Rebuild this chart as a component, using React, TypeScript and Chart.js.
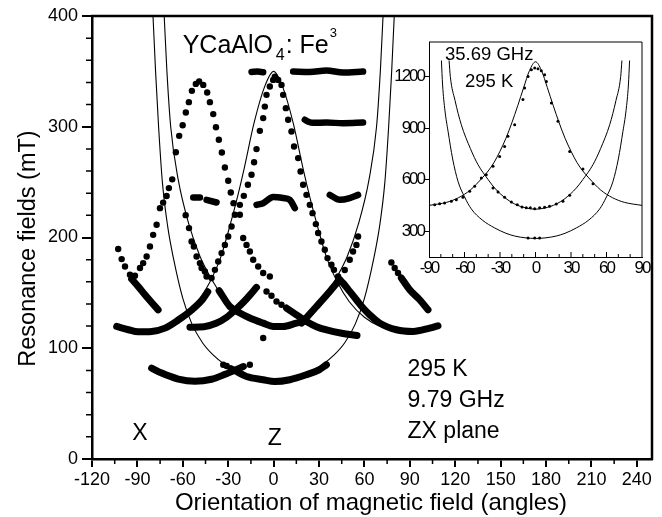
import React, { useEffect, useRef } from 'react';
import { Chart, registerables } from 'chart.js';

Chart.register(...registerables);

type P = [number, number];

const FONT = "'Liberation Sans', Arial, Helvetica, sans-serif";

// ---------- axis ticks ----------
const mainXTicks = [-120, -90, -60, -30, 0, 30, 60, 90, 120, 150, 180, 210, 240];
const mainYTicks = [0, 100, 200, 300, 400];
const insetXTicks = [-90, -60, -30, 0, 30, 60, 90];
const insetYTicks = [300, 600, 900, 1200];

// ---------- texts ----------
const yTitle = 'Resonance fields (mT)';
const xTitle = 'Orientation of magnetic field (angles)';
const compound = ['YCaAlO', '4', ': Fe', '3'];
const conditions = ['295 K', '9.79 GHz', 'ZX plane'];
const axisNames = ['X', 'Z'];
const insetConditions = ['35.69 GHz', '295 K'];

// ---------- main chart: fitted (thin) curves ----------
const fitOuterU: P[] = [[-81, 430], [-79.7, 400], [-78, 350], [-76, 300], [-73.5, 250], [-70, 210], [-66, 180], [-60, 145], [-54, 122], [-47, 105], [-40, 94], [-32, 85], [-22, 77], [-11, 72], [0, 70.5], [11, 72], [22, 77], [32, 85], [40, 94], [47, 105], [54, 122], [60, 145], [66, 180], [70, 210], [73.5, 250], [76, 300], [78, 350], [79.7, 400], [81, 430]];
const fitInnerU: P[] = [[-73.5, 430], [-72.3, 400], [-70.5, 350], [-68, 300], [-63, 252], [-56, 212], [-48.7, 183], [-40, 160], [-30, 140], [-20, 128], [-10, 122], [0, 120], [10, 122], [20, 128], [30, 140], [40, 160], [48.7, 183], [56, 212], [63, 252], [68, 300], [70.5, 350], [72.3, 400], [73.5, 430]];
const fitBell: P[] = [[-104, 119], [-90, 115.5], [-80, 116.5], [-70, 120], [-60, 128], [-50, 142], [-42, 160], [-35, 182], [-29, 210], [-24, 236], [-19.5, 262], [-13, 303], [-6, 336], [0, 350], [6, 336], [13, 303], [19.5, 262], [24, 236], [29, 210], [35, 182], [42, 160], [50, 142], [60, 128], [70, 120], [80, 116.5], [90, 115.5], [108, 121]];

// ---------- main chart: measured points ----------
const centerBellDots: P[] = [[-41, 163.4], [-38.8, 170.8], [-36.6, 178.3], [-34.4, 185.9], [-32.2, 193.3], [-30, 200.9], [-27.8, 209.9], [-25.6, 220.5], [-22.3, 229.5], [-19.7, 237.6], [-17, 247.6], [-14.6, 256.6], [-12.9, 268], [-11.3, 279.8], [-9.1, 296.3], [-6.9, 307.8], [-5.8, 318.2], [-4.7, 328.8], [-2.5, 336.3], [-0.3, 342.3], [0.8, 345.3], [3, 342.3], [5.2, 337.8], [6.3, 328.8], [8.1, 316.8], [9.6, 306.3], [11.8, 295.7], [13.5, 282.1], [16.2, 271.7], [17.8, 259.6], [19.5, 247.6], [21.7, 238.5], [23.9, 229.5], [25.7, 222], [27.9, 212.1], [29.4, 204], [31.6, 196.4], [33.8, 188.9], [35.6, 181.4], [38.2, 175.4], [39.9, 170.8], [42.6, 164.8]];
const leftBellDots: P[] = [[-91.6, 165.4], [-88.3, 172.4], [-86.2, 176.9], [-83.9, 182.9], [-81.7, 191.9], [-79.6, 202.4], [-77.3, 211.5], [-75.1, 226.5], [-73, 231.5], [-70.7, 237.5], [-69.2, 244.6], [-67, 252.5], [-64.6, 277], [-62.4, 291.8], [-60.1, 301.4], [-58, 312.8], [-56, 322.2], [-54, 332.4], [-51.4, 338.7], [-49.2, 340.8], [-46.5, 337.8], [-43.9, 330.9], [-42.1, 322.2], [-39.9, 311.4], [-38.1, 299.6], [-36.2, 288.2], [-34.2, 276.7], [-32.2, 263.2], [-30, 251.2], [-28.3, 240.6], [-26.5, 231], [-22.3, 220.5], [-20.1, 199.5], [-17.9, 193.3], [-15.7, 187.4], [-13.5, 179.9], [-10.2, 173.8], [-6.9, 167.9], [-2.5, 164.8]];
const vLeftDots: P[] = [[-102.7, 189.6], [-100.4, 180.5], [-98.2, 173.8], [-94.9, 166.3]];
const vRightDots: P[] = [[77.8, 177.4], [80, 172.4], [82.2, 167.9]];
const innerULeftDots: P[] = [[-58.1, 220.2], [-55.9, 208.5], [-54.2, 196.4], [-52.7, 191.9], [-50.9, 182.9], [-48.7, 176.9], [-47.6, 172.4], [-45.4, 169.3], [-44.3, 164.8]];
const innerURightDots: P[] = [[47, 170.6], [50.3, 179.9], [52.5, 187.4], [54.7, 193.3], [55.8, 200.9]];
const crossDots: P[] = [[-4.7, 151.2], [-1.4, 147.4], [1.9, 142.2], [5.2, 139.3]];
const lowDots: P[] = [[-33.3, 85.1], [-31, 84], [-15.7, 85.1], [-6.9, 109.2]];

// dense runs of points (appear as solid thick bands)
const arcLeft120: P[] = [[-103.7, 119.7], [-96, 116.7], [-89.5, 114.8], [-80.6, 115.2], [-71.8, 118.2], [-63, 125.5], [-54.2, 134.5], [-47, 144], [-43.5, 151]];
const arcRight120: P[] = [[44, 161.5], [45.9, 158.8], [50.3, 151.3], [54.7, 143.8], [59.1, 136.3], [63.5, 130.2], [70.1, 122.7], [81.1, 116.7], [92.1, 115.2], [103.1, 118.2], [108.6, 120.3]];
const vLeftBand: P[] = [[-93.8, 162.5], [-89.5, 155.8], [-85, 148.3], [-80.6, 141.3], [-76.3, 134.7]];
const vRightBand: P[] = [[84.4, 163.4], [89.9, 152.8], [96.5, 143.8], [102, 134.7]];
const innerUBand: P[] = [[-36, 152], [-28.9, 137.7], [-22.3, 131.8], [-15.7, 127.3], [-6.9, 122.7], [-0.3, 119.7], [6.3, 119.7], [15.1, 122.7], [20, 124]];
const risingBandRight: P[] = [[18.4, 122.7], [28.3, 137.7], [37.1, 151.3], [43.7, 162]];
const risingBandLeft: P[] = [[-55.3, 119], [-46, 119.5], [-38, 122.5], [-31, 128], [-25, 135], [-20, 141.5], [-15.7, 148], [-11.3, 155]];
const fallingBand: P[] = [[8.5, 136.3], [15.1, 130.2], [21.7, 124.2], [28.3, 119.5], [35, 116.5], [45, 113.5], [55.1, 111.5]];
const bottomLeftBand: P[] = [[-80.6, 82.1], [-74, 77.6], [-63, 72.2], [-52, 70.2], [-41, 72], [-32, 76.5], [-25, 80.5], [-20, 83.5]];
const bottomRightBand: P[] = [[-28, 81.5], [-24.5, 79], [-17.9, 74.5], [-6.9, 71.6], [0.8, 70], [10.7, 71.6], [21.7, 76.1], [30, 80.5], [34.9, 85.1]];
const h350Left: P[] = [[-14.6, 349.5], [-10.5, 349.8], [-6.9, 349.3]];
const h350Right: P[] = [[12.9, 349.8], [23.9, 349.5], [34.9, 350.8], [45.9, 349], [59.1, 349.8]];
const h305: P[] = [[20.6, 306.3], [23, 304.5], [26.1, 303.5], [34.9, 303.8], [45.9, 303.2], [59.1, 303.8]];
const h235Center: P[] = [[-11.3, 229.5], [-6.9, 231], [-0.3, 236.5], [6.3, 235.6], [10.7, 234], [14, 226.5]];
const h235Left1: P[] = [[-53.1, 236.1], [-48.7, 236.1]];
const h235Left2: P[] = [[-44.3, 234], [-37.7, 231.6]];
const h235Right: P[] = [[37.1, 238.5], [43.7, 234], [50.3, 235.6], [55.8, 238.5]];

// ---------- inset (35.69 GHz) ----------
const insetBellFit: P[] = [[-90, 450], [-75, 468], [-65, 495], [-55, 540], [-45, 610], [-40, 650], [-35, 700], [-30, 765], [-25, 840], [-20, 930], [-15, 1030], [-10, 1135], [-5, 1235], [0, 1285], [5, 1235], [10, 1135], [15, 1030], [20, 930], [25, 840], [30, 765], [35, 700], [40, 650], [45, 610], [55, 540], [65, 495], [75, 468], [90, 450]];
const insetMidFit: P[] = [[-73, 1290], [-72, 1200], [-68, 1060], [-62.7, 919], [-55, 780], [-48.6, 687], [-40, 600], [-34.5, 551], [-25, 490], [-17.6, 458], [-8, 435], [0, 428], [8, 435], [17.6, 458], [25, 490], [34.5, 551], [40, 600], [48.6, 687], [55, 780], [62.7, 919], [68, 1060], [72, 1200], [73, 1290]];
const insetLowFit: P[] = [[-79.5, 1290], [-78.5, 1150], [-76.5, 1000], [-73.9, 881], [-70, 720], [-65.5, 590], [-60, 500], [-54.3, 430], [-45, 365], [-34.5, 319], [-25, 288], [-17.6, 272], [-8, 261], [0, 258], [8, 261], [17.6, 272], [25, 288], [34.5, 319], [45, 365], [54.3, 430], [60, 500], [65.5, 590], [70, 720], [73.9, 881], [76.5, 1000], [78.5, 1150], [79.5, 1290]];
const insetBellDots: P[] = [[-85.2, 454], [-81, 460], [-76.8, 464], [-71.1, 474], [-66.9, 483], [-61.3, 497], [-55.6, 532], [-51.4, 561], [-45.8, 609], [-41.6, 628], [-35.9, 677], [-30.3, 735], [-26.1, 793], [-23.3, 852], [-17.6, 919], [-10.6, 1065], [-9.2, 1133], [-6.3, 1200], [-3.5, 1239], [-0.7, 1249], [2.1, 1245], [4.9, 1233], [7.7, 1210], [9.2, 1171], [13.4, 1045], [19, 939], [28.9, 764], [40.1, 662], [48.6, 576]];
const insetMidDots: P[] = [[-35.9, 551], [-31.7, 528], [-26.1, 497], [-20.4, 470], [-15.4, 454], [-11.4, 441], [-7.8, 436], [-4.4, 436], [-0.7, 431], [3.5, 436], [7.7, 439], [11.9, 445], [17.6, 458], [23.2, 474], [28.9, 509]];
const insetLowDots: P[] = [[-6.3, 260], [-0.7, 260], [3.5, 260]];

// ---------- helpers ----------
const toXY = (pts: P[]) => pts.map(([x, y]) => ({ x, y }));
const dotSet = (pts: P[], r: number) => ({
  data: toXY(pts), showLine: false, pointRadius: r, pointHoverRadius: r,
  pointBackgroundColor: '#000', pointBorderColor: '#000', pointBorderWidth: 0,
});
const lineSet = (pts: P[], w: number) => ({
  data: toXY(pts), showLine: true, borderColor: '#000', borderWidth: w,
  pointRadius: 0, pointHoverRadius: 0, cubicInterpolationMode: 'monotone',
  borderCapStyle: 'round', borderJoinStyle: 'round', fill: false,
});

const mainDecor = {
  id: 'mainDecor',
  afterDraw(chart: any) {
    const { ctx, chartArea: a } = chart;
    const xs = chart.scales.x;
    const ys = chart.scales.y;
    ctx.save();
    ctx.strokeStyle = '#000';
    ctx.lineWidth = 2.5;
    ctx.beginPath();
    ctx.moveTo(a.left - 1, a.top);
    ctx.lineTo(a.right, a.top);
    ctx.lineTo(a.right, a.bottom + 1);
    ctx.stroke();
    // minor ticks
    ctx.lineWidth = 1.5;
    ctx.beginPath();
    for (let v = -105; v < 250; v += 30) {
      const px = xs.getPixelForValue(v);
      ctx.moveTo(px, a.bottom);
      ctx.lineTo(px, a.bottom + 5);
    }
    for (let v = 20; v < 400; v += 20) {
      if (v % 100 === 0) continue;
      const py = ys.getPixelForValue(v);
      ctx.moveTo(a.left, py);
      ctx.lineTo(a.left - 6, py);
    }
    ctx.stroke();

    ctx.fillStyle = '#000';
    ctx.textAlign = 'left';
    ctx.textBaseline = 'alphabetic';
    // compound title
    const tx = xs.getPixelForValue(-60.1);
    const ty = ys.getPixelForValue(366.4);
    ctx.font = `25px ${FONT}`;
    ctx.fillText(compound[0], tx, ty);
    ctx.font = `16px ${FONT}`;
    ctx.fillText(compound[1], tx + 93, ty + 7);
    ctx.font = `25px ${FONT}`;
    ctx.fillText(compound[2], tx + 103, ty);
    ctx.font = `13px ${FONT}`;
    ctx.fillText(compound[3], tx + 147, ty - 16);

    // conditions
    ctx.font = `23px ${FONT}`;
    const cx = xs.getPixelForValue(88.5);
    const cy = [75.2, 47.2, 19.2];
    conditions.forEach((t, i) => ctx.fillText(t, cx, ys.getPixelForValue(cy[i])));

    // axis direction names
    ctx.textAlign = 'center';
    ctx.textBaseline = 'middle';
    ctx.fillText(axisNames[0], xs.getPixelForValue(-88.3), ys.getPixelForValue(22.8));
    ctx.fillText(axisNames[1], xs.getPixelForValue(0.8), ys.getPixelForValue(18.3));

    // axis titles
    ctx.textBaseline = 'alphabetic';
    ctx.font = `24px ${FONT}`;
    ctx.fillText(xTitle, (a.left + a.right) / 2 - 1, 510);
    ctx.translate(35, (a.top + a.bottom) / 2 + 11);
    ctx.rotate(-Math.PI / 2);
    ctx.font = `23.5px ${FONT}`;
    ctx.fillText(yTitle, 0, 0);
    ctx.restore();
  },
};

const insetDecor = {
  id: 'insetDecor',
  beforeDraw(chart: any) {
    chart.ctx.letterSpacing = '-2px';
  },
  afterDraw(chart: any) {
    const { ctx, chartArea: a } = chart;
    const xs = chart.scales.x;
    const ys = chart.scales.y;
    ctx.save();
    ctx.letterSpacing = '0px';
    ctx.strokeStyle = '#000';
    ctx.lineWidth = 1;
    ctx.beginPath();
    ctx.moveTo(a.left, a.top);
    ctx.lineTo(a.right, a.top);
    ctx.lineTo(a.right, a.bottom);
    ctx.stroke();
    ctx.beginPath();
    for (let v = -80; v <= 80; v += 10) {
      const px = xs.getPixelForValue(v);
      const len = v % 30 === 0 ? 5 : 3;
      ctx.moveTo(px, a.bottom);
      ctx.lineTo(px, a.bottom - len);
    }
    ctx.stroke();
    ctx.fillStyle = '#000';
    ctx.textAlign = 'left';
    ctx.textBaseline = 'alphabetic';
    ctx.font = `18.5px ${FONT}`;
    ctx.fillText(insetConditions[0], xs.getPixelForValue(-76.5), ys.getPixelForValue(1295));
    ctx.fillText(insetConditions[1], xs.getPixelForValue(-59.6), ys.getPixelForValue(1138));
    ctx.restore();
  },
};

function mainConfig(): any {
  return {
    type: 'scatter',
    data: {
      datasets: [
        lineSet(fitOuterU, 1.1),
        lineSet(fitInnerU, 1.1),
        lineSet(fitBell, 1.1),
        lineSet(arcLeft120, 7),
        lineSet(arcRight120, 7),
        lineSet(vLeftBand, 7),
        lineSet(vRightBand, 7),
        lineSet(innerUBand, 7),
        lineSet(risingBandRight, 7),
        lineSet(risingBandLeft, 7),
        lineSet(fallingBand, 7),
        lineSet(bottomLeftBand, 7),
        lineSet(bottomRightBand, 7),
        lineSet(h350Left, 6.5),
        lineSet(h350Right, 6.5),
        lineSet(h305, 6.5),
        lineSet(h235Center, 6.5),
        lineSet(h235Left1, 6.5),
        lineSet(h235Left2, 6.5),
        lineSet(h235Right, 6.5),
        dotSet(centerBellDots, 3.2),
        dotSet(leftBellDots, 3.2),
        dotSet(vLeftDots, 3.2),
        dotSet(vRightDots, 3.2),
        dotSet(innerULeftDots, 3.2),
        dotSet(innerURightDots, 3.2),
        dotSet(crossDots, 3.2),
        dotSet(lowDots, 3.2),
      ],
    },
    options: {
      responsive: false,
      animation: false,
      devicePixelRatio: 1,
      events: [],
      layout: { padding: { top: 16, right: 10, left: 0, bottom: 0 } },
      plugins: { legend: { display: false }, tooltip: { enabled: false } },
      scales: {
        x: {
          type: 'linear', position: 'bottom', min: -120, max: 250,
          afterBuildTicks: (s: any) => { s.ticks = mainXTicks.map((v) => ({ value: v })); },
          afterFit: (s: any) => { s.height = 58; },
          ticks: { autoSkip: false, maxRotation: 0, minRotation: 0, padding: 2, color: '#000', font: { family: FONT, size: 18 }, callback: (v: any) => String(v) },
          grid: { drawOnChartArea: false, drawTicks: true, tickLength: 8, color: '#000', lineWidth: 2 },
          border: { display: true, color: '#000', width: 2.5 },
        },
        y: {
          type: 'linear', position: 'left', min: 0, max: 400,
          afterBuildTicks: (s: any) => { s.ticks = mainYTicks.map((v) => ({ value: v })); },
          afterFit: (s: any) => { s.width = 92; },
          ticks: { autoSkip: false, padding: 4, color: '#000', font: { family: FONT, size: 18 }, callback: (v: any) => String(v) },
          grid: { drawOnChartArea: false, drawTicks: true, tickLength: 10, color: '#000', lineWidth: 2 },
          border: { display: true, color: '#000', width: 2.5 },
        },
      },
    },
    plugins: [mainDecor],
  };
}

function insetConfig(): any {
  return {
    type: 'scatter',
    data: {
      datasets: [
        lineSet(insetBellFit, 1),
        lineSet(insetMidFit, 1),
        lineSet(insetLowFit, 1),
        dotSet(insetBellDots, 1.5),
        dotSet(insetMidDots, 1.5),
        dotSet(insetLowDots, 1.5),
      ],
    },
    options: {
      responsive: false,
      animation: false,
      devicePixelRatio: 1,
      events: [],
      layout: { padding: { top: 12, right: 18, left: 0, bottom: 0 } },
      plugins: { legend: { display: false }, tooltip: { enabled: false } },
      scales: {
        x: {
          type: 'linear', position: 'bottom', min: -90, max: 90,
          afterBuildTicks: (s: any) => { s.ticks = insetXTicks.map((v) => ({ value: v })); },
          afterFit: (s: any) => { s.height = 28; },
          ticks: { autoSkip: false, maxRotation: 0, minRotation: 0, padding: 1, color: '#000', font: { family: FONT, size: 17 }, callback: (v: any) => String(v) },
          grid: { drawOnChartArea: false, drawTicks: false, color: '#000', lineWidth: 1 },
          border: { display: true, color: '#000', width: 1 },
        },
        y: {
          type: 'linear', position: 'left', min: 150, max: 1400,
          afterBuildTicks: (s: any) => { s.ticks = insetYTicks.map((v) => ({ value: v })); },
          afterFit: (s: any) => { s.width = 44; },
          ticks: { autoSkip: false, padding: 0, color: '#000', font: { family: FONT, size: 17 }, callback: (v: any) => String(v) },
          grid: { drawOnChartArea: false, drawTicks: true, tickLength: 5, color: '#000', lineWidth: 1 },
          border: { display: true, color: '#000', width: 1 },
        },
      },
    },
    plugins: [insetDecor],
  };
}

export default function App() {
  const mainRef = useRef<HTMLCanvasElement>(null);
  const insetRef = useRef<HTMLCanvasElement>(null);
  useEffect(() => {
    Chart.defaults.color = '#000';
    Chart.defaults.font.family = FONT;
    const main = new Chart(mainRef.current as HTMLCanvasElement, mainConfig());
    const inset = new Chart(insetRef.current as HTMLCanvasElement, insetConfig());
    return () => {
      main.destroy();
      inset.destroy();
    };
  }, []);
  return (
    <div style={{ position: 'fixed', left: 0, top: 0, width: 662, height: 517, background: '#fff' }}>
      <canvas ref={mainRef} width={662} height={517} style={{ position: 'absolute', left: 0, top: 0, width: 662, height: 517 }} />
      <canvas ref={insetRef} width={275} height={255} style={{ position: 'absolute', left: 385, top: 30, width: 275, height: 255 }} />
    </div>
  );
}
